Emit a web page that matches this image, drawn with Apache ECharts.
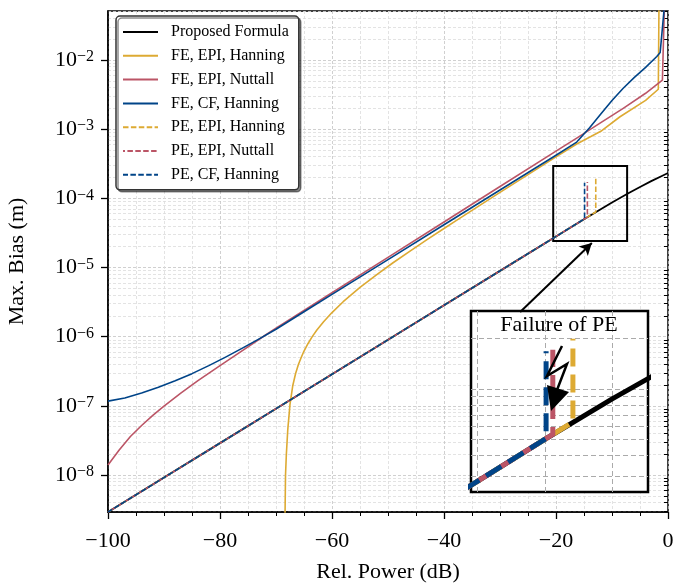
<!DOCTYPE html>
<html><head><meta charset="utf-8">
<script src="https://cdn.jsdelivr.net/npm/echarts@6/dist/echarts.min.js"></script>
<style>html,body{margin:0;padding:0;background:#fff}#c{width:673px;height:583px}</style>
</head><body><div id="c"></div>
<script>
const FONT = 'Liberation Serif';
// ---------- data ----------
const seriesNames = ['Proposed Formula','FE, EPI, Hanning','FE, EPI, Nuttall','FE, CF, Hanning','PE, EPI, Hanning','PE, EPI, Nuttall','PE, CF, Hanning'];
const xTicks = [-100,-80,-60,-40,-20,0];
const yMajorTicks = [1e-8,1e-7,1e-6,1e-5,1e-4,1e-3,1e-2];
const yMinorTicks = [3e-9,4e-9,5e-9,6e-9,7e-9,8e-9,9e-9,
  2e-8,3e-8,4e-8,5e-8,6e-8,7e-8,8e-8,9e-8, 2e-7,3e-7,4e-7,5e-7,6e-7,7e-7,8e-7,9e-7,
  2e-6,3e-6,4e-6,5e-6,6e-6,7e-6,8e-6,9e-6, 2e-5,3e-5,4e-5,5e-5,6e-5,7e-5,8e-5,9e-5,
  2e-4,3e-4,4e-4,5e-4,6e-4,7e-4,8e-4,9e-4, 2e-3,3e-3,4e-3,5e-3,6e-3,7e-3,8e-3,9e-3, 2e-2,3e-2,4e-2,5e-2];
const xRange = [-100, 0];
const yRange = [2.92e-9, 0.051];
const insetXRange = [-20.5, -7.3];
const insetYRange = [2.42e-5, 2.93e-4];
const insetXGrid = [-20,-15,-10];
const insetYGrid = [3e-5,4e-5,5e-5,6e-5,7e-5,8e-5,9e-5,1e-4,2e-4];
const arrowFrom = [-26.4, 2.27e-6];
const arrowTo = [-13.6, 2.26e-5];

const xProposed = [-100,-90,-80,-70,-60,-50,-40,-30,-20,-15,-10,-7,-5,-3,-1,0];
const yProposed = [2.92e-9,9.18e-9,2.89e-8,9.1e-8,2.86e-7,9.0e-7,2.84e-6,8.93e-6,2.81e-5,4.99e-5,8.7e-5,1.19e-4,1.46e-4,1.77e-4,2.12e-4,2.32e-4];

const xFeEpiHann = [-68.42,-68.38,-68.3,-68.15,-67.9,-67.5,-67,-66.5,-66,-65.5,-65,-64.3,-63.5,-62.7,-61.5,-60,-58,-55,-52,-49.1,-46,-43.1,-40,-37.7,-30,-25,-20,-16.3,-12,-8.57,-4,-1.73,-1.6];
const yFeEpiHann = [1e-9,2.92e-9,1e-8,2.0e-8,4.5e-8,1.05e-7,1.97e-7,2.93e-7,3.95e-7,5.0e-7,6.2e-7,7.9e-7,1.01e-6,1.245e-6,1.645e-6,2.23e-6,3.2e-6,5.15e-6,7.9e-6,1.17e-5,1.74e-5,2.51e-5,3.66e-5,4.83e-5,1.22e-4,2.2e-4,3.98e-4,6.1e-4,9.3e-4,1.51e-3,2.6e-3,3.77e-3,8e-2];

const xFeEpiNutt = [-100,-98,-96,-94,-92,-90,-87,-84,-80,-76,-72,-70,-65,-60,-50,-40,-30,-20,-16.3,-12,-8,-4,-1,-0.8,-0.6];
const yFeEpiNutt = [1.4e-8,2.3e-8,3.6e-8,5.2e-8,7.3e-8,9.9e-8,1.53e-7,2.29e-7,3.82e-7,6.3e-7,1.04e-6,1.33e-6,2.39e-6,4.31e-6,1.4e-5,4.55e-5,1.48e-4,4.81e-4,7.4e-4,1.24e-3,2.0e-3,3.3e-3,5.1e-3,5.4e-3,8e-2];

const xFeCfHann = [-100,-97,-94,-91,-88,-85,-82,-79,-76,-73,-70,-65,-60,-50,-40,-30,-20,-16.3,-14,-12,-10,-8,-6,-4,-2,-1.4,-0.5];
const yFeCfHann = [1.17e-7,1.30e-7,1.53e-7,1.85e-7,2.3e-7,2.92e-7,3.81e-7,5.06e-7,6.82e-7,9.28e-7,1.28e-6,2.29e-6,4.08e-6,1.3e-5,4.14e-5,1.32e-4,4.19e-4,6.5e-4,1.05e-3,1.65e-3,2.6e-3,3.9e-3,5.6e-3,7.8e-3,1.12e-2,1.28e-2,8e-2];

const xPeEpiHann = [-100,-90,-80,-70,-60,-50,-40,-30,-20,-15,-12.9,-12.9];
const yPeEpiHann = [2.92e-9,9.18e-9,2.89e-8,9.1e-8,2.86e-7,9.0e-7,2.84e-6,8.93e-6,2.81e-5,4.99e-5,6.35e-5,2.0e-4];
const xPeEpiNutt = [-100,-90,-80,-70,-60,-50,-40,-30,-20,-14.4,-14.4];
const yPeEpiNutt = [2.92e-9,9.18e-9,2.89e-8,9.1e-8,2.86e-7,9.0e-7,2.84e-6,8.93e-6,2.81e-5,5.35e-5,1.72e-4];
const xPeCfHann = [-100,-90,-80,-70,-60,-50,-40,-30,-20,-14.9,-14.9];
const yPeCfHann = [2.92e-9,9.18e-9,2.89e-8,9.1e-8,2.86e-7,9.0e-7,2.84e-6,8.93e-6,2.81e-5,5.05e-5,1.68e-4];

const colBlack = '#000000', colYellow = '#DDAA33', colRed = '#BB5566', colBlue = '#004488';

// ---------- build ----------
function pairs(xs, ys){ return xs.map((x,i)=>[x, ys[i]]); }
function mk(name, xs, ys, color, dashOffset, inset){
  const dashed = dashOffset !== null;
  const w = inset ? 5 : 1.6;
  return {
    name, type:'line', data: pairs(xs, ys),
    xAxisIndex: inset ? 1 : 0, yAxisIndex: inset ? 2 : 0,
    symbol:'none', showSymbol:false, clip:true, silent:true, animation:false,
    z: inset ? 8 : 2,
    lineStyle:{color, width:w, type: dashed ? (inset ? [18,8] : [5.5,2.4]) : 'solid', dashOffset: dashed ? (inset ? dashOffset*3.3 : dashOffset) : 0, cap:'butt', join:'round'},
    itemStyle:{color}
  };
}
const defs = [
  [seriesNames[0], xProposed, yProposed, colBlack, null],
  [seriesNames[1], xFeEpiHann, yFeEpiHann, colYellow, null],
  [seriesNames[2], xFeEpiNutt, yFeEpiNutt, colRed, null],
  [seriesNames[3], xFeCfHann, yFeCfHann, colBlue, null],
  [seriesNames[4], xPeEpiHann, yPeEpiHann, colYellow, 0],
  [seriesNames[5], xPeEpiNutt, yPeEpiNutt, colRed, 3.5],
  [seriesNames[6], xPeCfHann, yPeCfHann, colBlue, 0.5]
];
const series = [];
defs.forEach(d => series.push(mk(d[0], d[1], d[2], d[3], d[4], false)));
defs.forEach(d => series.push(mk(d[0], d[1], d[2], d[3], d[4], true)));
series[0].lineStyle.width = 1.8;
series[7].lineStyle.width = 5;
series[0].markArea = {silent:true, itemStyle:{color:'rgba(0,0,0,0)', borderColor:'#000', borderWidth:2}, label:{show:false},
  data:[[{coord:[insetXRange[0], insetYRange[1]]},{coord:[insetXRange[1], insetYRange[0]]}]]};
series[0].markLine = {silent:true, symbol:['none','arrow'], symbolSize:[10,12], label:{show:false},
  lineStyle:{color:'#000', width:2, type:'solid'},
  data:[[{coord:arrowFrom},{coord:arrowTo}]]};

const txt = {fontFamily:FONT, color:'#000'};
function yFmt(v){ const e = Math.round(Math.log10(v)); return '{b|10}{s|' + (e<0?'\u2212':'') + Math.abs(e) + '}'; }
const gridLine = {show:true, lineStyle:{color:'#c4c4c4', type:[3,2], width:0.8}};
const minorGridLine = {show:true, lineStyle:{color:'#dcdcdc', type:[3,2], width:0.8}};

const option = {
  animation:false,
  backgroundColor:'#fff',
  grid:[
    {left:108, right:5, top:11, bottom:71, show:true, borderColor:'#000', borderWidth:1.5, backgroundColor:'rgba(0,0,0,0)', outerBoundsMode:'none', containLabel:false},
    {left:471, top:311, width:177, height:181, show:true, borderColor:'#000', borderWidth:2.5, backgroundColor:'#fff', z:5, outerBoundsMode:'none', containLabel:false}
  ],
  xAxis:[
    {type:'value', gridIndex:0, min:xRange[0], max:xRange[1], interval:20,
     name:'Rel. Power (dB)', nameLocation:'middle', nameGap:49, nameTextStyle:Object.assign({fontSize:22}, txt),
     axisLine:{show:true, onZero:false, lineStyle:{color:'#000', width:1.5}},
     axisTick:{show:true, length:7, lineStyle:{color:'#000', width:1.3}},
     minorTick:{show:true, splitNumber:4, length:4, lineStyle:{color:'#000', width:1}},
     axisLabel:Object.assign({fontSize:22, margin:18, formatter:v => (v<0?'\u2212':'') + Math.abs(v)}, txt),
     splitLine:gridLine, minorSplitLine:minorGridLine},
    {type:'value', gridIndex:1, min:insetXRange[0], max:insetXRange[1], z:6,
     axisLine:{show:false}, axisTick:{show:false, customValues:insetXGrid}, axisLabel:{show:false},
     splitLine:{show:true, lineStyle:{color:'#aaaaaa', type:[5,3], width:1}}}
  ],
  yAxis:[
    {type:'log', logBase:10, gridIndex:0, position:'left', min:yRange[0], max:yRange[1],
     name:'Max. Bias (m)', nameLocation:'middle', nameGap:80, nameTextStyle:Object.assign({fontSize:22}, txt),
     axisLine:{show:true, onZero:false, lineStyle:{color:'#000', width:1.5}},
     axisTick:{show:true, customValues:yMajorTicks, length:7, lineStyle:{color:'#000', width:1.3}},
     axisLabel:{customValues:yMajorTicks, margin:14, formatter:yFmt,
       rich:{b:Object.assign({fontSize:22, verticalAlign:'bottom'}, txt), s:Object.assign({fontSize:16, verticalAlign:'top'}, txt)}},
     splitLine:gridLine},
    {type:'log', logBase:10, gridIndex:0, position:'left', min:yRange[0], max:yRange[1],
     axisLine:{show:false},
     axisTick:{show:true, customValues:yMinorTicks, length:4, lineStyle:{color:'#000', width:1}},
     axisLabel:{show:false},
     splitLine:minorGridLine},
    {type:'log', logBase:10, gridIndex:1, min:insetYRange[0], max:insetYRange[1], z:6,
     axisLine:{show:false}, axisTick:{show:false, customValues:insetYGrid}, axisLabel:{show:false},
     splitLine:{show:true, lineStyle:{color:'#aaaaaa', type:[5,3], width:1}}}
  ],
  legend:{
    data:seriesNames, orient:'vertical', left:116, top:16, itemWidth:35, itemHeight:12, itemGap:7.8,
    padding:[8,10,7,6], textStyle:Object.assign({fontSize:16, padding:[0,0,0,8]}, txt),
    itemStyle:{opacity:0, color:'rgba(0,0,0,0)', borderWidth:0},
    backgroundColor:'#fff', borderColor:'#333', borderWidth:1.5, borderRadius:4,
    shadowColor:'rgba(0,0,0,0.45)', shadowOffsetX:2, shadowOffsetY:2, shadowBlur:0,
    selectedMode:false, z:10
  },
  graphic:[
    {type:'text', z:20, x:559, y:314, style:{text:'Failure of PE', fontSize:22, fontFamily:FONT, fill:'#000', align:'center'}},
    {type:'polyline', z:20, shape:{points:[[562,346],[547,376],[567,364],[557,390]]}, style:{stroke:'#000', lineWidth:2.5, fill:null}},
    {type:'polygon', z:20, shape:{points:[[547,385],[569,392],[551,411]]}, style:{fill:'#000'}}
  ],
  series
};
const chart = echarts.init(document.getElementById('c'), null, {renderer:'canvas'});
chart.setOption(option);
</script>
</body></html>
